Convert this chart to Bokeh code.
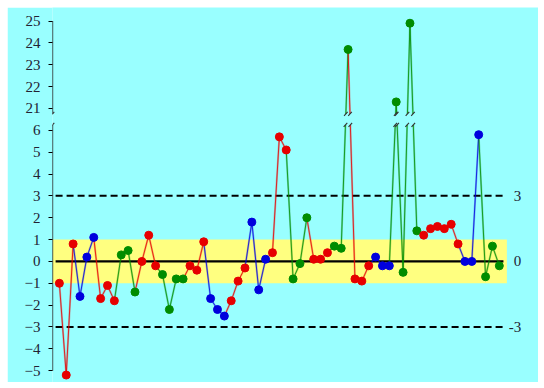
from bokeh.plotting import figure
from bokeh.models import Range1d, FixedTicker, ColumnDataSource, BoxAnnotation
from bokeh.core.properties import value
from bokeh.embed import file_html
from bokeh.resources import INLINE

# ---- data ----
values = [-1.0, -5.2, 0.8, -1.6, 0.2, 1.1, -1.7, -1.1, -1.8, 0.3,
          0.5, -1.4, 0.0, 1.2, -0.2, -0.6, -2.2, -0.8, -0.8, -0.2,
          -0.4, 0.9, -1.7, -2.2, -2.5, -1.8, -0.9, -0.3, 1.8, -1.3,
          0.1, 0.4, 5.7, 5.1, -0.8, -0.1, 2.0, 0.1, 0.1, 0.4,
          0.7, 0.6, 23.7, -0.8, -0.9, -0.2, 0.2, -0.2, -0.2, 21.3,
          -0.5, 24.9, 1.4, 1.2, 1.5, 1.6, 1.5, 1.7, 0.8, 0.0,
          0.0, 5.8, -0.7, 0.7, -0.2]
groups = list("RRRBBBRRRGGGRRRGGGGRRRBBBRRRBBBRRRGGGRRRGGGRRRBBBGGGGRRRRRRBBBGGG")
lower_ticks = [-5, -4, -3, -2, -1, 0, 1, 2, 3, 4, 5, 6]
upper_ticks = [21, 22, 23, 24, 25]
limit_values = [3, 0, -3]
limit_labels = ["3", "0", "-3"]
band = (-1, 1)

assert len(values) == len(groups)

# ---- styling / break mapping ----
COLORS = {"R": "#E60000", "B": "#0000DD", "G": "#008C00"}
UPPER_MIN = 20
UPPER_OFFSET = 14          # upper values drawn at v - 14
BREAK_LO = 6.25            # lower panel top (mapped units)
BREAK_HI = 6.75            # upper panel bottom (mapped units)
FONT = "Liberation Serif"


def mapy(v):
    return v - UPPER_OFFSET if v > UPPER_MIN else v


n = len(values)
xs = list(range(1, n + 1))
ys = [mapy(v) for v in values]
cols = [COLORS[g] for g in groups]

# Segments, split across the axis break
seg = dict(x0=[], y0=[], x1=[], y1=[], color=[])
marks = dict(x0=[], y0=[], x1=[], y1=[])
SX = 1.8 / 6.875
SY = 2.0 / 21.85


def add_mark(xc, yc):
    marks["x0"].append(xc - SX)
    marks["y0"].append(yc - SY)
    marks["x1"].append(xc + SX)
    marks["y1"].append(yc + SY)


for i in range(n - 1):
    xa, ya, xb, yb = xs[i], ys[i], xs[i + 1], ys[i + 1]
    c = cols[i + 1]
    ua, ub = values[i] > UPPER_MIN, values[i + 1] > UPPER_MIN
    if ua == ub:
        seg["x0"].append(xa); seg["y0"].append(ya)
        seg["x1"].append(xb); seg["y1"].append(yb)
        seg["color"].append(c)
    else:
        def xat(yy):
            return xa + (xb - xa) * (yy - ya) / (yb - ya)
        xl, xh = xat(BREAK_LO), xat(BREAK_HI)
        if ua:
            pieces = [(xa, ya, xh, BREAK_HI), (xl, BREAK_LO, xb, yb)]
        else:
            pieces = [(xa, ya, xl, BREAK_LO), (xh, BREAK_HI, xb, yb)]
        for (p0, q0, p1, q1) in pieces:
            seg["x0"].append(p0); seg["y0"].append(q0)
            seg["x1"].append(p1); seg["y1"].append(q1)
            seg["color"].append(c)
        add_mark(xl, BREAK_LO)
        add_mark(xh, BREAK_HI)

# axis break marks
add_mark(0, BREAK_LO)
add_mark(0, BREAK_HI)

p = figure(width=531, height=375, output_backend="svg", toolbar_location=None,
           x_range=Range1d(0, 70.7), y_range=Range1d(-5.54, 11.62),
           x_axis_type=None, min_border_left=45, min_border_right=0,
           min_border_top=0, min_border_bottom=0)
p.margin = (7, 0, 0, 7)
p.background_fill_color = "#99FFFF"
p.border_fill_color = "#99FFFF"
p.outline_line_color = None
p.grid.visible = False

# y axis
ax = p.yaxis[0]
ax.ticker = FixedTicker(ticks=lower_ticks + [mapy(t) for t in upper_ticks])
ax.major_label_overrides = {mapy(t): str(t) for t in upper_ticks}
ax.axis_line_color = None
ax.major_tick_in = 0
ax.major_tick_out = 4
ax.major_tick_line_color = "black"
ax.minor_tick_line_color = None
ax.major_label_text_font = FONT
ax.major_label_text_font_size = "15px"
ax.major_label_text_color = "#222233"
ax.major_label_standoff = 8

# yellow band
p.add_layout(BoxAnnotation(left=0, right=n + 1.1, bottom=band[0], top=band[1],
                           fill_color="#FFFF80", fill_alpha=1.0, line_color=None,
                           level="underlay"))

# axis line pieces
p.segment(x0=[0, 0], y0=[min(lower_ticks), BREAK_HI], x1=[0, 0],
          y1=[BREAK_LO, mapy(max(upper_ticks))], line_color="black", line_width=1.3)

# limit lines
lx0, lx1 = 0.45, n + 0.6
p.segment(x0=[lx0, lx0], y0=[limit_values[0], limit_values[2]],
          x1=[lx1, lx1], y1=[limit_values[0], limit_values[2]],
          line_color="black", line_width=2, line_dash="7 4")
p.segment(x0=[lx0], y0=[limit_values[1]], x1=[lx1], y1=[limit_values[1]],
          line_color="black", line_width=2.2)

# data lines
src = ColumnDataSource(seg)
p.segment(x0="x0", y0="y0", x1="x1", y1="y1", source=src,
          line_color="color", line_width=2.0, line_alpha=0.3)
p.segment(x0="x0", y0="y0", x1="x1", y1="y1", source=src,
          line_color="color", line_width=0.8)

# break marks
p.segment(x0="x0", y0="y0", x1="x1", y1="y1", source=ColumnDataSource(marks),
          line_color="#333333", line_width=1.1)

# points
p.scatter(x=xs, y=ys, size=8, fill_color=cols, line_color=cols)

# right labels
p.text(x=[68.2] * 3, y=limit_values, text=limit_labels, text_align="right",
       text_baseline="middle", text_font=value(FONT), text_font_size="15px",
       text_color="#222233")

open("out.html", "w").write(file_html(p, INLINE))
